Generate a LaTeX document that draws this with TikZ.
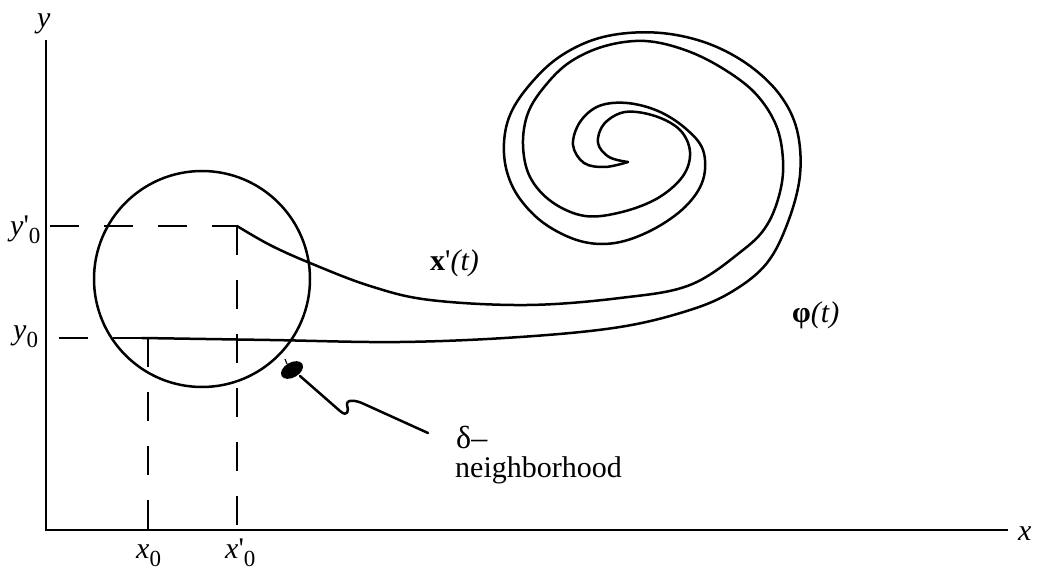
\documentclass[tikz,border=0pt]{standalone}
\usepackage{fontspec}
\setmainfont{Liberation Serif}[Ligatures=TeXOff]
\newcommand{\lowsub}[1]{\raisebox{-8pt}{\fontsize{23}{23}\selectfont #1}}
\begin{document}
\begin{tikzpicture}[x=1pt,y=-1pt,
  axis/.style={line width=2.8pt},
  guide/.style={line width=2.4pt, dash pattern=on 29pt off 25pt},
  traj/.style={line width=2.5pt, line join=round, line cap=round},
  lbl/.style={font=\fontsize{30}{34}\selectfont, inner sep=0pt, anchor=base west}]
\useasboundingbox (0,0) rectangle (1039,577);
% axes
\coordinate (O) at (46,530);
\coordinate (ytop) at (46,40);
\coordinate (xend) at (1008,530);
\draw[axis] (ytop) -- (O) -- (xend);
\node[lbl] (ylab) at (37,28) {\itshape y};
\node[lbl] (xlab) at (1018,540) {\itshape x};
% neighborhood circle
\node[draw, circle, minimum size=216pt, inner sep=0pt, line width=2.5pt] (nbhd) at (202,279) {};
% start points
\coordinate (P0) at (142,338);
\coordinate (P1) at (237,226);
\coordinate (Q0) at (148,338);
\coordinate (y0l) at (59,338);
\coordinate (yp0l) at (50,226);
\coordinate (x0b) at (148,530);
\coordinate (xp0b) at (237,530);
% guides
\draw[guide] (yp0l) -- (P1);
\draw[guide] (P1) -- (xp0b);
\draw[guide] (y0l) -- (P0);
\draw[guide] (Q0) -- (x0b);
% labels on axes
\node[lbl] (yp0lab) at (10,236) {{\itshape y}'\lowsub{0}};
\node[lbl] (y0lab) at (13,340) {{\itshape y}\lowsub{0}};
\node[lbl] (x0lab) at (136,558) {{\itshape x}\lowsub{0}};
\node[lbl] (xp0lab) at (225,558) {{\itshape x}'\lowsub{0}};
% trajectory x'(t)
\draw[traj] plot[smooth, tension=0.6] coordinates {(237,226) (270,245) (310,263) (370,286) (430,300) (527,305) (620,298) (690,285) (743,250) (767,225) (780,192) (783,160) (776,125) (755,93) (722,68) (685,50) (645,41) (605,46) (570,62) (545,86) (528,113) (523,145) (530,177) (552,202) (585,216) (622,212) (658,198) (683,176) (690,152) (680,130) (655,116) (625,112) (604,124) (598,143) (609,157) (628,162)};
% trajectory phi(t)
\draw[traj] plot[smooth, tension=0.6] coordinates {(142,338) (270,340) (400,342) (520,337) (620,327) (690,310) (733,291) (767,263) (788,222) (800,175) (797,130) (780,95) (750,66) (712,45) (670,34) (628,33) (590,41) (555,60) (527,88) (510,115) (504,143) (507,172) (520,199) (545,224) (580,241) (615,243) (652,230) (685,207) (703,180) (703,150) (685,128) (658,111) (627,103) (599,106) (580,122) (573,145) (584,163) (605,167) (628,162)};
\node[lbl] (xplab) at (430,271) {\textbf{x}'\textit{(t)}};
\node[lbl] (phlab) at (792,323) {\textbf{φ}\textit{(t)}};
% delta neighborhood pointer
\coordinate (blobc) at (292,370);
\fill[rotate around={30:(blobc)}] (blobc) ellipse [x radius=12pt, y radius=7.5pt];
\draw[line width=1.2pt] (287,364) -- (285,359);
\coordinate (tail) at (428,433);
\draw[traj] (300,376) -- (340,411) .. controls (348,418) and (349,410) .. (347,405) .. controls (346,399) and (356,400) .. (364,404) -- (tail);
\node[lbl, font=\fontsize{32}{34}\selectfont] (dlab) at (456,448) {δ–};
\node[lbl] (nlab) at (455,477) {neighborhood};
\end{tikzpicture}
\end{document}
